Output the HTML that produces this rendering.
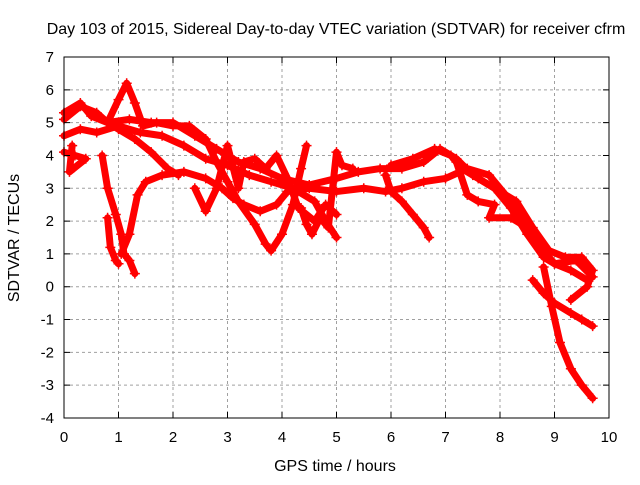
<!DOCTYPE html>
<html><head><meta charset="utf-8"><style>
body{margin:0;background:#fff;}
svg text{font-family:"Liberation Sans",sans-serif;font-size:15px;fill:#000;}
svg text.big{font-size:16px;}
</style></head><body>
<svg id="chart" width="640" height="480" xmlns="http://www.w3.org/2000/svg">
<rect x="0" y="0" width="640" height="480" fill="#fff"/>
<g id="grid"></g>
<g id="series"></g>
<rect x="64" y="57" width="545" height="361" fill="none" stroke="#000" stroke-width="1"/>
<g id="ticks"></g>
<text class="big" x="336" y="34" text-anchor="middle">Day 103 of 2015, Sidereal Day-to-day VTEC variation (SDTVAR) for receiver cfrm</text>
<text class="big" x="335" y="471" text-anchor="middle">GPS time / hours</text>
<text class="big" x="19" y="238" text-anchor="middle" transform="rotate(-90 19 238)">SDTVAR / TECUs</text>
</svg>
<script>
const xTicks=[0,1,2,3,4,5,6,7,8,9,10];
const yTicks=[-4,-3,-2,-1,0,1,2,3,4,5,6,7];
const traceA=[[0,5.1],[0.3,5.5],[0.6,5.3],[0.8,5.0],[1.0,4.8],[1.3,4.5],[1.6,4.1],[1.9,3.6],[2.1,3.4]];
const traceB=[[1.05,1.0],[1.2,1.6],[1.35,2.8],[1.5,3.2],[1.8,3.4],[2.2,3.5],[2.6,3.3],[2.9,3.0],[3.1,2.7],[3.3,2.5],[3.6,2.3],[3.9,2.5],[4.1,2.9],[4.5,3.0],[5.0,2.9],[5.5,3.0],[5.9,2.9],[6.2,3.0],[6.6,3.2],[7.0,3.3],[7.4,3.6],[7.8,3.4],[8.1,2.8],[8.4,2.0],[8.7,1.3],[9.0,0.7],[9.3,0.5],[9.6,0.2]];
const traceC=[[0,5.3],[0.3,5.6],[0.5,5.2],[0.8,5.0],[1.2,5.1],[1.6,5.0],[2.0,5.0],[2.4,4.6],[2.8,4.2],[3.2,3.8],[3.6,3.6],[4.0,3.3],[4.5,3.1],[5.0,3.3],[5.4,3.5],[5.8,3.6],[6.2,3.6],[6.6,3.8],[6.9,4.2],[7.2,3.9],[7.5,3.4],[7.9,3.0],[8.2,2.4],[8.5,1.6],[8.8,0.9],[9.0,0.7],[9.4,0.8],[9.7,0.3]];
const traceD=[[0,4.6],[0.3,4.8],[0.6,4.7],[1.0,4.9],[1.4,4.7],[1.8,4.6],[2.2,4.3],[2.6,3.9],[3.0,3.7],[3.4,3.4],[3.8,3.2],[4.2,3.0],[4.6,2.6],[4.8,2.0],[5.0,1.5]];
const traceE=[[0.6,5.2],[0.8,5.0],[1.0,5.7],[1.15,6.2],[1.3,5.6],[1.45,4.9],[1.7,5.0],[2.0,4.9],[2.3,4.9],[2.6,4.5],[2.8,3.8],[3.0,3.2],[3.2,2.6],[3.5,1.9],[3.7,1.3],[3.8,1.1],[4.0,1.6],[4.2,2.5],[4.35,3.6],[4.45,4.3]];
const traceF=[[0.7,4.0],[0.8,3.0],[0.95,2.2],[1.05,1.6],[1.1,1.0],[1.2,0.8],[1.3,0.4]];
const traceG=[[0.8,2.1],[0.85,1.2],[0.95,0.8],[1.0,0.7]];
const traceH=[[0,4.1],[0.2,4.0],[0.4,3.9],[0.1,3.5],[0.15,4.3]];
const traceI=[[5.9,3.4],[6.0,2.9],[6.2,2.6],[6.4,2.2],[6.6,1.8],[6.7,1.5]];
const traceJ=[[8.6,0.2],[8.8,-0.2],[9.0,-0.5],[9.3,-0.8],[9.5,-1.0],[9.7,-1.2]];
const traceK=[[8.8,0.6],[8.95,-0.6],[9.1,-1.7],[9.3,-2.5],[9.5,-3.0],[9.7,-3.4]];
const traceL=[[6.0,3.7],[6.4,3.9],[6.8,4.2],[7.1,4.0],[7.3,3.6],[7.6,3.3],[7.9,3.0],[8.3,2.6],[8.6,1.8],[8.9,1.1],[9.2,0.9],[9.5,0.9],[9.7,0.5],[9.6,0.0],[9.3,-0.4]];
const traceM=[[7.2,3.8],[7.4,2.8],[7.6,2.6],[7.9,2.5],[7.8,2.1],[8.2,2.1],[8.5,1.8]];
const traceN=[[4.35,2.4],[4.45,1.9],[4.55,1.6],[4.7,2.1],[4.85,1.8],[5.0,4.1],[5.1,3.7],[5.3,3.6]];
const traceO=[[2.4,3.0],[2.6,2.3],[2.8,3.0],[3.0,4.3],[3.2,3.0],[3.3,3.8],[3.5,3.9],[3.7,3.6],[3.9,4.0],[4.1,3.3],[4.3,2.4],[4.6,2.0],[4.8,2.5],[5.0,2.2]];
const traces=[traceA,traceB,traceC,traceD,traceE,traceF,traceG,traceH,traceI,traceJ,traceK,traceL,traceM,traceN,traceO];
const NS="http://www.w3.org/2000/svg";
const X0=64,X1=609,Y0=418,Y1=57;
function sx(h){return X0+(h-0)/(10-0)*(X1-X0);}
function sy(v){return Y0-(v-(-4))/(7-(-4))*(Y0-Y1);}
const grid=document.getElementById('grid'),ticks=document.getElementById('ticks'),ser=document.getElementById('series');
function mk(tag,attrs,parent){const e=document.createElementNS(NS,tag);for(const k in attrs)e.setAttribute(k,attrs[k]);parent.appendChild(e);return e;}
xTicks.forEach(t=>{const x=sx(t);
 if(t>0&&t<10){const g=mk('line',{x1:x,y1:Y1,x2:x,y2:Y0,stroke:'#a0a0a0','stroke-dasharray':'3,3'},grid);
 
 }
 const tk=mk('path',{d:`M${x},${Y0}v-6M${x},${Y1}v6`,stroke:'#000'},ticks);
 
 
 const lb=mk('text',{x:x,y:Y0+24,'text-anchor':'middle'},ticks);lb.textContent=t;
 
 
});
yTicks.forEach(t=>{const y=sy(t);
 if(t>-4&&t<7){const g=mk('line',{x1:X0,y1:y,x2:X1,y2:y,stroke:'#a0a0a0','stroke-dasharray':'3,3'},grid);
 
 }
 const tk=mk('path',{d:`M${X0},${y}h6M${X1},${y}h-6`,stroke:'#000'},ticks);
 
 
 const lb=mk('text',{x:X0-10,y:y+5,'text-anchor':'end'},ticks);lb.textContent=t;
 
 
});
traces.forEach((tr,i)=>{
 const pl=mk('polyline',{points:tr.map(p=>sx(p[0])+','+sy(p[1])).join(' '),fill:'none',stroke:'#ff0000','stroke-width':7,'stroke-linejoin':'round','stroke-linecap':'round'},ser);
 
 
 tr.forEach(p=>{const x=sx(p[0]),y=sy(p[1]);
  const m=mk('path',{d:`M${x-5},${y}h10M${x},${y-5}v10`,stroke:'#ff0000','stroke-width':1.5},ser);
  
  
 });
});
</script>
</body></html>
